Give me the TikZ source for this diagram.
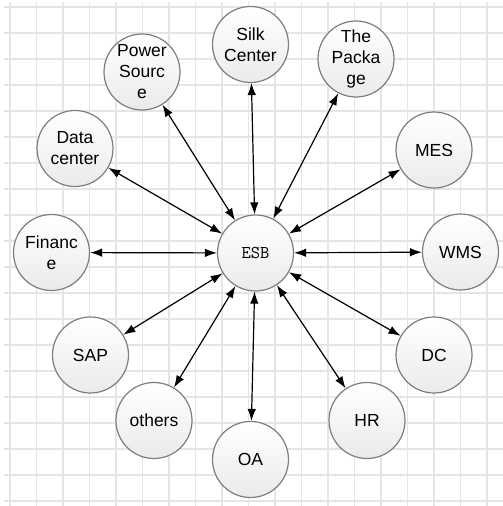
\documentclass[tikz,border=0pt]{standalone}
\usepackage{fontspec}
\setmainfont{Liberation Sans}
\usetikzlibrary{arrows.meta}

\definecolor{gridgray}{RGB}{229,229,229}
\definecolor{rimgray}{RGB}{125,125,125}

\tikzset{
	sys/.style={circle, draw=rimgray, line width=1.2pt, minimum size=76pt, inner sep=0pt,
		top color=white, bottom color=gray!16, align=center, text=black,
		font=\fontsize{17.5}{21}\selectfont},
	link/.style={line width=1.2pt, {Latex[length=12pt,width=8.5pt]}-{Latex[length=12pt,width=8.5pt]}},
}

\begin{document}
\begin{tikzpicture}[x=1pt,y=-1pt]
	\useasboundingbox (0,0) rectangle (503,506);

	\foreach \x in {0,...,18} {
	     \draw[gridgray, line width=1.3pt] (10+26.5*\x,2) -- (10+26.5*\x,506);
 	}
	\foreach \y in {0,...,19} {
	     \draw[gridgray, line width=1.3pt] (4,7+26*\y) -- (503,7+26*\y);
 	}

	% koniec siatki

	\node[sys, font=\ttfamily\fontsize{18}{20}\selectfont] (esb) at (255.5,253) {ESB};

	\node[sys] (power)   at (142,72)    {Power\\Sourc\\e};
	\node[sys] (silk)    at (250.5,44.5) {Silk\\Center};
	\node[sys] (package) at (356,59)    {The\\Packa\\ge};
	\node[sys] (data)    at (75,148.5)  {Data\\center};
	\node[sys] (mes)     at (434,150)   {MES};
	\node[sys] (finance) at (51.5,252.5) {Financ\\e};
	\node[sys] (wms)     at (460.5,252) {WMS};
	\node[sys] (sap)     at (90.5,355)  {SAP};
	\node[sys] (dc)      at (434,355)   {DC};
	\node[sys] (others)  at (154,420.5) {others};
	\node[sys] (hr)      at (367,420.5) {HR};
	\node[sys] (oa)      at (250.5,459.5) {OA};

	\foreach \n in {power,silk,package,data,mes,finance,wms,sap,dc,others,hr,oa} {
	     \draw[link] (esb) -- (\n);
 	}
\end{tikzpicture}
\end{document}
